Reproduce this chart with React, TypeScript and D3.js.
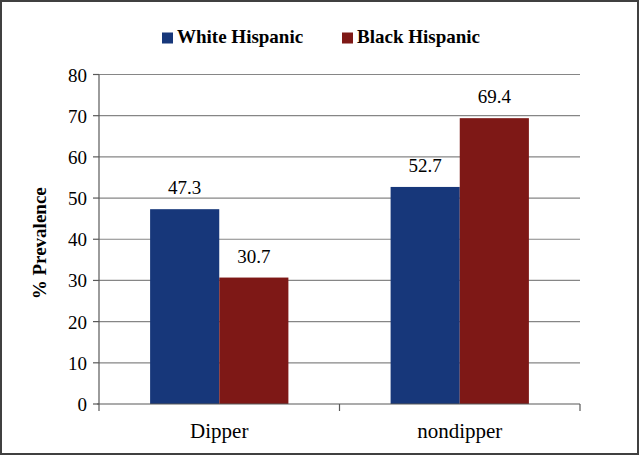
import React from "react";
import * as d3 from "d3";

const categories = ["Dipper", "nondipper"];
const seriesNames = ["White Hispanic", "Black Hispanic"];
const whiteHispanic = [47.3, 52.7];
const blackHispanic = [30.7, 69.4];
const yTicks = [0, 10, 20, 30, 40, 50, 60, 70, 80];
const colors = ["#17377a", "#7e1816"];

const FONT = "Liberation Serif";

export default function App() {
  const W = 640, H = 456;
  const left = 99, right = 580, top = 74.5, bottom = 404;
  const y = d3.scaleLinear().domain([0, 80]).range([bottom, top]);
  const x0 = d3.scaleBand<string>().domain(categories).range([left, right]).paddingInner(0).paddingOuter(0);
  const bw = x0.bandwidth();
  const groupW = bw * 0.575;
  const x1 = d3.scaleBand<string>().domain(seriesNames).range([0, groupW]);
  const series = [whiteHispanic, blackHispanic];

  return (
    <svg width={W} height={H} style={{ position: "absolute", left: 0, top: 0 }}>
      <rect x={0} y={0} width={W} height={H} fill="#fff" />
      <rect x={1} y={1} width={W - 3} height={H - 3} fill="none" stroke="#404040" strokeWidth={2} />
      {yTicks.filter(t => t > 0).map(t => (
        <line key={"g" + t} x1={left} x2={right} y1={y(t)} y2={y(t)} stroke="#868686" strokeWidth={1.2} />
      ))}
      {categories.map((c, ci) => (
        <g key={c} transform={`translate(${(x0(c) as number) + (bw - groupW) / 2},0)`}>
          {series.map((s, si) => (
            <g key={si}>
              <rect x={x1(seriesNames[si])} y={y(s[ci])} width={x1.bandwidth()} height={bottom - y(s[ci])} fill={colors[si]} />
              <text x={(x1(seriesNames[si]) as number) + x1.bandwidth() / 2} y={y(s[ci]) - 15} textAnchor="middle" fontSize={19} style={{ fontFamily: FONT }}>
                {s[ci].toFixed(1)}
              </text>
            </g>
          ))}
        </g>
      ))}
      <line x1={left} x2={left} y1={top} y2={bottom} stroke="#595959" strokeWidth={1.2} />
      {yTicks.map(t => (
        <g key={"t" + t}>
          <line x1={left - 6} x2={left} y1={y(t)} y2={y(t)} stroke="#595959" strokeWidth={1.2} />
          <text x={left - 12} y={y(t) + 7} textAnchor="end" fontSize={19} style={{ fontFamily: FONT }}>{t}</text>
        </g>
      ))}
      <line x1={left - 2} x2={right} y1={bottom} y2={bottom} stroke="#595959" strokeWidth={1.2} />
      {[left, ...categories.map(c => (x0(c) as number) + bw)].map((xv, i) => (
        <line key={"xt" + i} x1={xv} x2={xv} y1={bottom} y2={bottom + 7} stroke="#595959" strokeWidth={1.2} />
      ))}
      {categories.map(c => (
        <text key={"xl" + c} x={(x0(c) as number) + bw / 2} y={438} textAnchor="middle" fontSize={21} style={{ fontFamily: FONT }}>{c}</text>
      ))}
      <text transform={`translate(46,${(top + bottom) / 2 + 4}) rotate(-90)`} textAnchor="middle" fontSize={19} fontWeight="bold" style={{ fontFamily: FONT }}>% Prevalence</text>
      {seriesNames.map((n, i) => {
        const lx = [162, 342][i];
        return (
          <g key={n}>
            <rect x={lx} y={32.5} width={11} height={11} fill={colors[i]} />
            <text x={lx + 15} y={43} fontSize={19} fontWeight="bold" style={{ fontFamily: FONT }}>{n}</text>
          </g>
        );
      })}
    </svg>
  );
}
